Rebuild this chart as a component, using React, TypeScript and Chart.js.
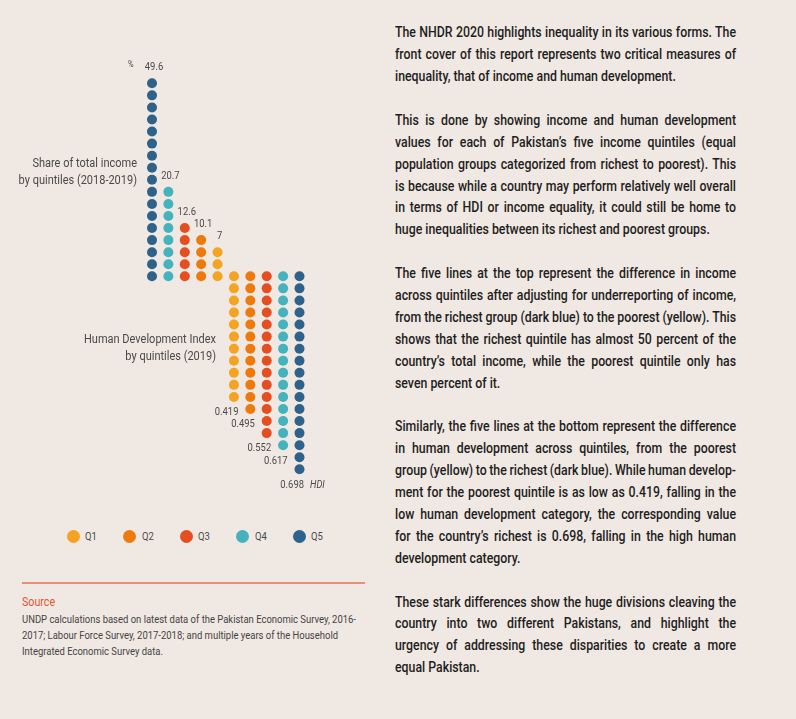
import React, { useEffect, useRef } from "react";
import { Chart, registerables } from "chart.js";
Chart.register(...registerables);

// ---- data ----
const quintiles = ["Q1", "Q2", "Q3", "Q4", "Q5"];
const incomeShare = [7, 10.1, 12.6, 20.7, 49.6]; // % share of total income
const incomeDots = [3, 4, 5, 8, 17];
const hdiValues = [0.419, 0.495, 0.552, 0.617, 0.698];
const hdiDots = [11, 12, 14, 15, 17];
const colors = ["#f4a422", "#ee7a0e", "#e54e21", "#45b3bd", "#2f628a"];

const incomeTitle = ["Share of total income", "by quintiles (2018-2019)"];
const hdiTitle = ["Human Development Index", "by quintiles (2019)"];

const sourceLines = [
  "UNDP calculations based on latest data of the Pakistan Economic Survey, 2016-",
  "2017; Labour Force Survey, 2017-2018; and multiple years of the Household",
  "Integrated Economic Survey data.",
];

const paragraphs: string[][] = [
  [
    "The NHDR 2020 highlights inequality in its various forms. The",
    "front cover of this report represents two critical measures of",
    "inequality, that of income and human development.",
  ],
  [
    "This is done by showing income and human development",
    "values for each of Pakistan\u2019s five income quintiles (equal",
    "population groups categorized from richest to poorest). This",
    "is because while a country may perform relatively well overall",
    "in terms of HDI or income equality, it could still be home to",
    "huge inequalities between its richest and poorest groups.",
  ],
  [
    "The five lines at the top represent the difference in income",
    "across quintiles after adjusting for underreporting of income,",
    "from the richest group (dark blue) to the poorest (yellow). This",
    "shows that the richest quintile has almost 50 percent of the",
    "country\u2019s total income, while the poorest quintile only has",
    "seven percent of it.",
  ],
  [
    "Similarly, the five lines at the bottom represent the difference",
    "in human development across quintiles, from the poorest",
    "group (yellow) to the richest (dark blue). While human develop-",
    "ment for the poorest quintile is as low as 0.419, falling in the",
    "low human development category, the corresponding value",
    "for the country\u2019s richest is 0.698, falling in the high human",
    "development category.",
  ],
  [
    "These stark differences show the huge divisions cleaving the",
    "country into two different Pakistans, and highlight the",
    "urgency of addressing these disparities to create a more",
    "equal Pakistan.",
  ],
];

const BG = "#f0e8e2";
const LABEL = "#4a4a4a";

function drawText(
  ctx: CanvasRenderingContext2D,
  text: string,
  x: number,
  y: number,
  size: number,
  color: string,
  align: CanvasTextAlign,
  sx: number,
  italic = false
) {
  ctx.save();
  ctx.translate(x, y);
  ctx.scale(sx, 1);
  ctx.font = `${italic ? "italic " : ""}${size}px Roboto`;
  ctx.fillStyle = color;
  ctx.textAlign = align;
  ctx.textBaseline = "middle";
  ctx.fillText(text, 0, 0);
  ctx.restore();
}

export default function App() {
  const ref = useRef<HTMLCanvasElement>(null);

  useEffect(() => {
    const canvas = ref.current!;
    const datasets = quintiles.map((q, i) => {
      const pts: { x: number; y: number }[] = [];
      for (let k = 0; k < incomeDots[i]; k++) pts.push({ x: 4 - i, y: k });
      for (let k = 0; k < hdiDots[i]; k++) pts.push({ x: 5 + i, y: -k });
      return {
        label: q,
        data: pts,
        backgroundColor: colors[i],
        borderColor: colors[i],
        borderWidth: 0,
        pointRadius: 5,
        pointHoverRadius: 5,
        showLine: false,
        clip: false as any,
      };
    });

    const labelPlugin = {
      id: "dotLabels",
      afterDatasetsDraw(chart: any) {
        const ctx: CanvasRenderingContext2D = chart.ctx;
        const xs = chart.scales.x;
        const ys = chart.scales.y;
        quintiles.forEach((_, i) => {
          const xi = xs.getPixelForValue(4 - i);
          const yi = ys.getPixelForValue(incomeDots[i] - 1);
          drawText(ctx, String(incomeShare[i]), xi + 2, yi - 16, 11.5, LABEL, "center", 0.82);
          const xh = xs.getPixelForValue(5 + i);
          const yh = ys.getPixelForValue(-(hdiDots[i] - 1));
          drawText(ctx, hdiValues[i].toFixed(3), xh + 4.5, yh + 15.5, 11.5, LABEL, "right", 0.82);
          if (i === 4) {
            drawText(ctx, "%", xi - 24, yi - 18.5, 9, LABEL, "left", 0.85);
            drawText(ctx, "HDI", xh + 10.5, yh + 15.5, 11, LABEL, "left", 0.84, true);
          }
        });
        drawText(ctx, incomeTitle[0], 137, 164, 12.5, LABEL, "right", 0.88);
        drawText(ctx, incomeTitle[1], 137, 181, 12.5, LABEL, "right", 0.88);
        drawText(ctx, hdiTitle[0], 216, 340, 12.5, LABEL, "right", 0.88);
        drawText(ctx, hdiTitle[1], 216, 356.5, 12.5, LABEL, "right", 0.88);
      },
    };

    const chart = new Chart(canvas, {
      type: "scatter",
      data: { datasets: datasets as any },
      options: {
        responsive: false,
        animation: false,
        devicePixelRatio: 1,
        layout: { padding: { left: 152, right: 70.5, top: 83.3, bottom: 30.7 } },
        scales: {
          x: { type: "linear", min: 0, max: 9, display: false },
          y: { type: "linear", min: -16, max: 16, display: false },
        },
        plugins: { legend: { display: false }, tooltip: { enabled: false } },
      },
      plugins: [labelPlugin],
    });
    return () => chart.destroy();
  }, []);

  const bodyScale = 0.88;
  const srcScale = 0.86;

  return (
    <div
      style={{
        position: "fixed",
        left: 0,
        top: 0,
        width: 796,
        height: 719,
        background: BG,
        overflow: "hidden",
        fontFamily: "Roboto, sans-serif",
      }}
    >
      <canvas
        ref={ref}
        width={370}
        height={500}
        style={{ position: "absolute", left: 0, top: 0, width: 370, height: 500 }}
      />

      {/* legend */}
      {quintiles.map((q, i) => (
        <div key={q}>
          <div
            style={{
              position: "absolute",
              left: 73.3 + i * 56.5 - 6.5,
              top: 536.7 - 6.5,
              width: 13,
              height: 13,
              borderRadius: "50%",
              background: colors[i],
            }}
          />
          <div
            style={{
              position: "absolute",
              left: 85 + i * 56.5,
              top: 536.7 - 8,
              height: 16,
              lineHeight: "16px",
              fontSize: 11,
              color: "#4a4a4a",
              transform: "scaleX(0.86)",
              transformOrigin: "0 0",
              whiteSpace: "nowrap",
            }}
          >
            {q}
          </div>
        </div>
      ))}

      {/* source */}
      <div
        style={{
          position: "absolute",
          left: 22,
          top: 582,
          width: 343,
          height: 2,
          background: "#e98f78",
        }}
      />
      <div
        style={{
          position: "absolute",
          left: 22,
          top: 602 - 9,
          height: 18,
          lineHeight: "18px",
          fontSize: 13,
          color: "#e4562f",
          transform: "scaleX(0.82)",
          transformOrigin: "0 0",
          whiteSpace: "nowrap",
        }}
      >
        Source
      </div>
      <div
        style={{
          position: "absolute",
          left: 22,
          top: 620 - 8,
          width: 345 / srcScale,
          fontSize: 11,
          lineHeight: "16px",
          color: "#444",
          transform: `scaleX(${srcScale})`,
          transformOrigin: "0 0",
        }}
      >
        {sourceLines.map((l, i) => (
          <div key={i} style={{ whiteSpace: "nowrap" }}>
            {l}
          </div>
        ))}
      </div>

      {/* right text */}
      <div
        style={{
          position: "absolute",
          left: 395,
          top: 33.3 - 10.95,
          width: 341 / bodyScale,
          fontSize: 14,
          fontWeight: 500,
          lineHeight: "21.9px",
          color: "#1e1e1e",
          transform: `scaleX(${bodyScale})`,
          transformOrigin: "0 0",
        }}
      >
        {paragraphs.map((p, pi) => (
          <div key={pi} style={{ marginBottom: pi < paragraphs.length - 1 ? 21.9 : 0 }}>
            {p.map((l, li) => {
              const last = li === p.length - 1;
              return (
                <div
                  key={li}
                  style={{
                    textAlign: last ? "left" : "justify",
                    textAlignLast: last ? "left" : "justify",
                    wordSpacing: last ? 0 : -3,
                    height: 21.9,
                  }}
                >
                  {l}
                </div>
              );
            })}
          </div>
        ))}
      </div>
    </div>
  );
}
